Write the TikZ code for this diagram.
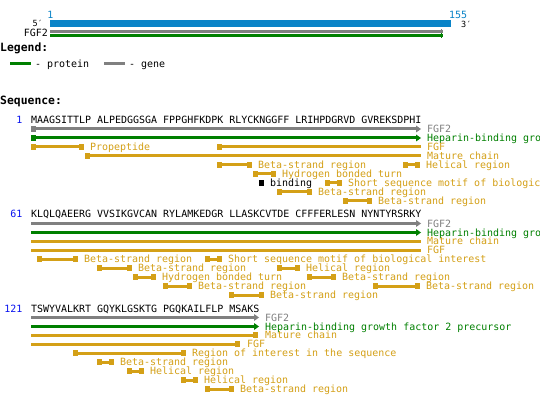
\documentclass[tikz,border=0pt]{standalone}
\usepackage{fontspec}
\newfontfamily\pix{DejaVu Sans Mono}
\definecolor{orng}{RGB}{212,160,23}
\definecolor{grn}{RGB}{0,128,0}
\definecolor{gry}{RGB}{128,128,128}
\definecolor{topblue}{RGB}{10,132,200}
\definecolor{numblue}{RGB}{10,20,240}
\tikzset{
  lab/.style={font=\pix\fontsize{9.97}{10}\selectfont, inner sep=0pt, anchor=base west},
  labr/.style={font=\pix\fontsize{9.97}{10}\selectfont, inner sep=0pt, anchor=base east},
  head/.style={font=\pix\bfseries\fontsize{11.4}{12}\selectfont, inner sep=0pt, anchor=base west},
  bar/.style={line width=3pt},
}
% full feature: #1 name, #2 y, #3 start col, #4 end col, #5 label
\newcommand\fbar[5]{%
  \fill[orng] ({31+6*#3},{#2-3}) rectangle ({36+6*#3},{#2+3});
  \fill[orng] ({31+6*#4},{#2-3}) rectangle ({36+6*#4},{#2+3});
  \draw[orng,bar] ({33.5+6*#3},#2) -- ({33.5+6*#4},#2);
  \node[lab,text=orng] (#1) at ({42+6*#4},{#2+3.7}) {#5};}
% arrow head: #1 y, #2 tip x, #3 colour
\newcommand\ahead[3]{%
  \fill[#3] ({#2-5},{#1-3.5}) -- (#2,#1) -- ({#2-5},{#1+3.5}) -- cycle;}
\begin{document}
\begin{tikzpicture}[x=1pt,y=-1pt]
\useasboundingbox (0,0) rectangle (540,395);
\clip (0,0) rectangle (540,395);
\fill[white] (0,0) rectangle (540,395);

% ---- overview ----
\fill[topblue] (50,20) rectangle (451,27);
\node[lab,text=topblue,anchor=base] (one) at (50.5,19) {1};
\node[lab,text=topblue] (end) at (449,19) {155};
\node[labr,font=\pix\fontsize{8.5}{9}\selectfont] (five) at (43,26.5) {5′};
\node[lab,font=\pix\fontsize{8.5}{9}\selectfont] (three) at (461,27.5) {3′};
\node[labr] (gname) at (48,36.5) {FGF2};
\draw[gry,bar] (50,31.5) -- (443,31.5);
\fill[gry] (440.5,29) rectangle (442,34.5);
\draw[grn,bar] (50,35.5) -- (443,35.5);
\fill[grn] (440.5,33) rectangle (442,38.5);

% ---- legend ----
\node[head] (legend) at (0,51.5) {Legend:};
\coordinate (lp1) at (10,64);
\coordinate (lp2) at (31,64);
\draw[grn,bar] (lp1) -- (lp2);
\node[lab] (lprot) at (35,67.7) {- protein};
\coordinate (lg1) at (104,64);
\coordinate (lg2) at (125,64);
\draw[gry,bar] (lg1) -- (lg2);
\node[lab] (lgene) at (129,67.7) {- gene};
\node[head] (seqhead) at (0,104.5) {Sequence:};

% ---- block 1 ----
\node[labr,text=numblue] (n1) at (22.5,124) {1};
\node[lab] (s1) at (31,124) {MAAGSITTLP ALPEDGGSGA FPPGHFKDPK RLYCKNGGFF LRIHPDGRVD GVREKSDPHI};
\fill[gry] (31,126) rectangle (36,132);
\draw[gry,bar] (33.5,129) -- (416,129);
\ahead{129}{421}{gry}
\node[lab,text=gry] (b1g) at (427,132.7) {FGF2};
\fill[grn] (31,135) rectangle (36,141);
\draw[grn,bar] (33.5,138) -- (416,138);
\ahead{138}{421}{grn}
\node[lab,text=grn] (b1p) at (427,141.7) {Heparin-binding gro};
\fbar{b1a}{147}{0}{8}{Propeptide}
\fill[orng] (217,144) rectangle (222,150);
\draw[orng,bar] (219.5,147) -- (421,147);
\node[lab,text=orng] (b1b) at (427,150.7) {FGF};
\fill[orng] (85,153) rectangle (90,159);
\draw[orng,bar] (87.5,156) -- (421,156);
\node[lab,text=orng] (b1c) at (427,159.7) {Mature chain};
\fbar{b1d}{165}{31}{36}{Beta-strand region}
\fbar{b1e}{165}{62}{64}{Helical region}
\fbar{b1f}{174}{37}{40}{Hydrogen bonded turn}
\fill[black] (259,180) rectangle (264,186);
\node[lab] (b1h) at (270,186.7) {binding};
\fbar{b1i}{183}{49}{51}{Short sequence motif of biologic}
\fbar{b1j}{192}{41}{46}{Beta-strand region}
\fbar{b1k}{201}{52}{56}{Beta-strand region}

% ---- block 2 ----
\node[labr,text=numblue] (n61) at (22.5,218) {61};
\node[lab] (s61) at (31,218) {KLQLQAEERG VVSIKGVCAN RYLAMKEDGR LLASKCVTDE CFFFERLESN NYNTYRSRKY};
\draw[gry,bar] (31,223.5) -- (416,223.5);
\ahead{223.5}{421}{gry}
\node[lab,text=gry] (b2g) at (427,227.2) {FGF2};
\draw[grn,bar] (31,232.5) -- (416,232.5);
\ahead{232.5}{421}{grn}
\node[lab,text=grn] (b2p) at (427,236.2) {Heparin-binding gro};
\draw[orng,bar] (31,241) -- (421,241);
\node[lab,text=orng] (b2a) at (427,244.7) {Mature chain};
\draw[orng,bar] (31,250) -- (421,250);
\node[lab,text=orng] (b2b) at (427,253.7) {FGF};
\fbar{b2c}{259}{1}{7}{Beta-strand region}
\fbar{b2d}{259}{29}{31}{Short sequence motif of biological interest}
\fbar{b2e}{268}{11}{16}{Beta-strand region}
\fbar{b2f}{268}{41}{44}{Helical region}
\fbar{b2h}{277}{17}{20}{Hydrogen bonded turn}
\fbar{b2i}{277}{46}{50}{Beta-strand region}
\fbar{b2j}{286}{22}{26}{Beta-strand region}
\fbar{b2k}{286}{57}{64}{Beta-strand region}
\fbar{b2l}{295}{33}{38}{Beta-strand region}

% ---- block 3 ----
\node[labr,text=numblue] (n121) at (22.5,312) {121};
\node[lab] (s121) at (31,312) {TSWYVALKRT GQYKLGSKTG PGQKAILFLP MSAKS};
\draw[gry,bar] (31,317.5) -- (254,317.5);
\ahead{317.5}{259}{gry}
\node[lab,text=gry] (b3g) at (265,321.2) {FGF2};
\draw[grn,bar] (31,326.5) -- (254,326.5);
\ahead{326.5}{259}{grn}
\node[lab,text=grn] (b3p) at (265,330.2) {Heparin-binding growth factor 2 precursor};
\draw[orng,bar] (31,335) -- (255.5,335);
\fill[orng] (253,332) rectangle (258,338);
\node[lab,text=orng] (b3a) at (265,338.7) {Mature chain};
\draw[orng,bar] (31,344) -- (237.5,344);
\fill[orng] (235,341) rectangle (240,347);
\node[lab,text=orng] (b3b) at (247,347.7) {FGF};
\fbar{b3c}{353}{7}{25}{Region of interest in the sequence}
\fbar{b3d}{362}{11}{13}{Beta-strand region}
\fbar{b3e}{371}{16}{18}{Helical region}
\fbar{b3f}{380}{25}{27}{Helical region}
\fbar{b3h}{389}{29}{33}{Beta-strand region}
\end{tikzpicture}
\end{document}
